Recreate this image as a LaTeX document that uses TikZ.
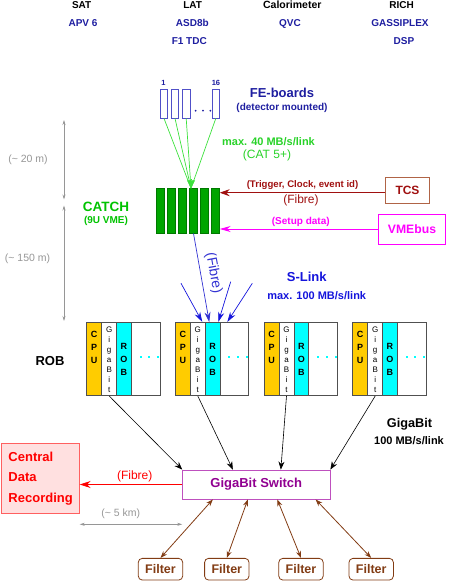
\documentclass[tikz,border=0pt]{standalone}
\usepackage{fontspec}
\setmainfont{Liberation Sans}
\usetikzlibrary{arrows.meta,calc}
\definecolor{navy}{RGB}{30,30,160}
\definecolor{febl}{RGB}{80,80,200}
\definecolor{glight}{RGB}{60,225,60}
\definecolor{gtext}{RGB}{40,210,40}
\definecolor{catchg}{RGB}{0,165,0}
\definecolor{catchd}{RGB}{0,120,0}
\definecolor{catcht}{RGB}{0,195,0}
\definecolor{tcsred}{RGB}{160,16,16}
\definecolor{tcsbox}{RGB}{176,100,70}
\definecolor{magen}{RGB}{255,0,255}
\definecolor{sblue}{RGB}{20,20,220}
\definecolor{fblue}{RGB}{50,50,210}
\definecolor{cpuy}{RGB}{255,204,0}
\definecolor{cyn}{RGB}{0,255,255}
\definecolor{dgray}{RGB}{150,150,150}
\definecolor{modgray}{RGB}{80,80,80}
\definecolor{swline}{RGB}{190,80,190}
\definecolor{swtext}{RGB}{145,0,145}
\definecolor{rred}{RGB}{255,0,0}
\definecolor{rfill}{RGB}{255,224,224}
\definecolor{rline}{RGB}{255,96,96}
\definecolor{brn}{RGB}{130,60,20}
\newcommand\fsz[1]{\fontsize{#1}{#1}\selectfont}
\begin{document}
\begin{tikzpicture}[x=1pt,y=-1pt,
  txt/.style={inner sep=0pt, outer sep=0pt},
  feb/.style={draw=febl, line width=0.8pt, fill=white, minimum width=7.4pt, minimum height=29pt, inner sep=0pt},
  bar/.style={draw=catchd, line width=0.4pt, fill=catchg, minimum width=8pt, minimum height=45pt, inner sep=0pt},
  gline/.style={glight, line width=0.7pt},
  modbox/.style={draw=modgray, line width=0.6pt, fill=white, minimum width=73.3pt, minimum height=73.4pt, inner sep=0pt},
  strip/.style={draw=modgray, line width=0.6pt, minimum width=#1, minimum height=73.4pt, inner sep=0pt},
  stk/.style={txt, align=center},
  dim/.style={dgray, line width=0.6pt, {Stealth[length=5pt,width=3pt]}-{Stealth[length=5pt,width=3pt]}},
  karr/.style={black, line width=0.6pt, -{Stealth[length=8pt,width=6pt]}},
  barr/.style={sblue, line width=0.7pt, -{Stealth[length=10pt,width=6pt]}},
  brarr/.style={brn, line width=0.8pt, {Stealth[length=7pt,width=5pt]}-{Stealth[length=7pt,width=5pt]}},
  filt/.style={draw=brn, line width=0.8pt, rounded corners=4pt, fill=white, minimum width=44.4pt, minimum height=21.7pt, inner sep=0pt, text=brn, font=\fsz{12.5}\bfseries},
]
\useasboundingbox (0,0) rectangle (450,582);

% top row
\node[txt, anchor=base, font=\fsz{10}\bfseries] (sat) at (81.7,8.3) {SAT};
\node[txt, anchor=base, font=\fsz{10}\bfseries] (lat) at (192.7,8.3) {LAT};
\node[txt, anchor=base, font=\fsz{10.5}\bfseries] (cal) at (292.3,8.3) {Calorimeter};
\node[txt, anchor=base, font=\fsz{10}\bfseries] (rich) at (401.7,8.3) {RICH};
\node[txt, anchor=base, font=\fsz{10}\bfseries, text=navy] (apv) at (83,26.7) {APV 6};
\node[txt, anchor=base, font=\fsz{10}\bfseries, text=navy] (asd) at (192.3,26.7) {ASD8b};
\node[txt, anchor=base, font=\fsz{10}\bfseries, text=navy] (qvc) at (290,26.7) {QVC};
\node[txt, anchor=base, font=\fsz{10}\bfseries, text=navy] (gas) at (400,26.7) {GASSIPLEX};
\node[txt, anchor=base, font=\fsz{10}\bfseries, text=navy] (f1tdc) at (189.3,44.3) {F1 TDC};
\node[txt, anchor=base, font=\fsz{10}\bfseries, text=navy] (dsp) at (404,44.3) {DSP};

% FE boards
\node[feb] (fe1) at (164,103.5) {};
\node[feb] (fe2) at (175,103.5) {};
\node[feb] (fe3) at (186.2,103.5) {};
\node[feb] (fe16) at (215.8,103.5) {};
\node[txt, font=\fsz{7.5}\bfseries, text=navy] (l1) at (163.5,83) {1};
\node[txt, font=\fsz{7.5}\bfseries, text=navy] (l16) at (216,83) {16};
\foreach \d in {195.7,203,210.3} \fill[navy] (\d,110.7) circle (1pt);
\node[txt, font=\fsz{13}\bfseries, text=navy] (feb) at (282,92.7) {FE-boards};
\node[txt, font=\fsz{10}\bfseries, text=navy] (fedet) at (282,107.7) {(detector mounted)};

% CATCH
\foreach \i/\x in {1/160,2/171.1,3/182.2,4/193.5,5/204.5,6/215.5}
  \node[bar] (bar\i) at (\x,210.8) {};
\coordinate (fetip) at (191,188.3);
\coordinate (feconv) at (191,179);
\foreach \f in {fe1,fe2,fe3,fe16} \draw[gline] (\f.south) -- (fetip);
\draw[gline, -{Triangle[length=8pt,width=8pt]}] (feconv) -- (fetip);
\node[txt, font=\fsz{11}\bfseries, text=gtext] (max40) at (268.5,141.7) {max. 40 MB/s/link};
\node[txt, font=\fsz{12}, text=gtext] (cat5) at (267,155) {(CAT 5+)};
\node[txt, font=\fsz{13.5}\bfseries, text=catcht] (catch) at (106,206.7) {CATCH};
\node[txt, font=\fsz{10}\bfseries, text=catcht] (vme9u) at (106,221) {(9U VME)};

% TCS / VMEbus
\node[draw=tcsbox, line width=0.8pt, fill=white, minimum width=43.6pt, minimum height=26pt, inner sep=0pt, text=tcsred, font=\fsz{12}\bfseries] (tcs) at (407.5,190.3) {TCS};
\coordinate (tcsw) at ([yshift=-2.4pt]tcs.west);
\draw[tcsred, line width=0.8pt, -{Stealth[length=10pt,width=7pt]}] (tcsw) -- (tcsw -| bar6.east);
\node[txt, font=\fsz{9.6}\bfseries, text=tcsred] (trig) at (302.5,185) {(Trigger, Clock, event id)};
\node[txt, font=\fsz{12}, text=tcsred] (tfib) at (301,200) {(Fibre)};
\node[draw=magen, line width=0.8pt, fill=white, minimum width=67.4pt, minimum height=30pt, inner sep=0pt, text=magen, font=\fsz{12.2}\bfseries] (vme) at (412,229) {VMEbus};
\draw[magen, line width=0.8pt, -{Stealth[length=11pt,width=6pt]}] (vme.west) -- (vme.west -| bar6.east);
\node[txt, font=\fsz{10}\bfseries, text=magen] (setup) at (300.8,222.3) {(Setup data)};

% ROB modules
\foreach \i/\x in {1/86.7,2/175.3,3/264,4/352.7}{
  \node[modbox] (mod\i) at (\x+36.65,359) {};
  \node[strip=15pt, fill=cpuy] (cpu\i) at (\x+7.5,359) {};
  \node[strip=15pt, fill=white] (gig\i) at (\x+22.5,359) {};
  \node[strip=14.5pt, fill=cyn] (rob\i) at (\x+37.25,359) {};
  \node[stk, font=\fontsize{9}{13}\selectfont\bfseries] (cput\i) at (\x+7.5,347.3) {C\\P\\U};
  \node[stk, font=\fontsize{8}{10}\selectfont] (gigt\i) at (\x+22.5,359.5) {G\\i\\g\\a\\B\\i\\t};
  \node[stk, font=\fontsize{9}{13}\selectfont\bfseries] (robt\i) at (\x+37.25,359.5) {R\\O\\B};
  \foreach \d in {54,62.6,71.6} \fill[cyn] (\x+\d-1,356.3) rectangle ++(2,2);
}
\node[txt, font=\fsz{13}\bfseries] (roblab) at (50,361) {ROB};

% S-Link
\coordinate (fibtip) at ([xshift=-3.3pt]rob2.north);
\draw[fblue, line width=0.7pt, -{Stealth[length=10pt,width=6pt]}] (bar4.south) -- (fibtip);
\node[txt, font=\fsz{14}, text=fblue, rotate=-79.5] (sfib) at (213.5,273.3) {(Fibre)};
\coordinate (s1) at (181,283.3);
\coordinate (s3) at (230.7,281.7);
\coordinate (s4) at (252.3,283.3);
\draw[barr] (s1) -- ([xshift=-10.25pt]rob2.north);
\draw[barr] (s3) -- ([xshift=5.75pt]rob2.north);
\draw[barr] (s4) -- ([xshift=14.75pt]rob2.north);
\node[txt, font=\fsz{13}\bfseries, text=sblue] (slink) at (306.7,276.7) {S-Link};
\node[txt, font=\fsz{11}\bfseries, text=sblue] (max100) at (316.7,296) {max. 100 MB/s/link};

% left dimensions
\coordinate (d1) at (64,120);
\coordinate (d2) at (64,199.5);
\coordinate (d3) at (64,205.5);
\coordinate (d4) at (64,321);
\draw[dim] (d1) -- (d2);
\draw[dim] (d3) -- (d4);
\node[txt, font=\fsz{10.5}, text=dgray] (d20) at (28,160) {(\textasciitilde{} 20 m)};
\node[txt, font=\fsz{10.5}, text=dgray] (d150) at (27.5,259) {(\textasciitilde{} 150 m)};

% GigaBit switch
\node[draw=swline, line width=0.8pt, fill=white, minimum width=147.3pt, minimum height=29pt, inner sep=0pt, text=swtext, font=\fsz{13}\bfseries] (sw) at (256.3,484.5) {GigaBit Switch};
\draw[karr] (gig1.south) -- (sw.north west);
\draw[karr] (gig2.south) -- ([xshift=50.6pt]sw.north west);
\draw[karr] (gig3.south) -- ([xshift=98.6pt]sw.north west);
\draw[karr] (gig4.south) -- (sw.north east);
\node[txt, font=\fsz{12.7}\bfseries] (gblab) at (409.5,424) {GigaBit};
\node[txt, font=\fsz{11}\bfseries] (gb100) at (409,441) {100 MB/s/link};

% Central Data Recording
\node[draw=rline, line width=0.8pt, fill=rfill, minimum width=77.6pt, minimum height=70pt, inner sep=0pt, text width=64pt, align=left, text=rred, font=\fontsize{13}{20.5}\selectfont\bfseries] (cdr) at (40.5,478.3) {Central\\Data\\Recording};
\draw[rred, line width=0.8pt, -{Stealth[length=11pt,width=7pt]}] (sw.west) -- (sw.west -| cdr.east);
\node[txt, font=\fsz{12}, text=rred] (rfib) at (134.7,476.7) {(Fibre)};
\coordinate (dimy) at (0,524.3);
\draw[dim] (cdr.east |- dimy) -- (sw.west |- dimy);
\node[txt, font=\fsz{10.5}, text=dgray] (d5) at (120.8,514) {(\textasciitilde{} 5 km)};

% Filters
\node[filt] (f1) at (160.5,569.2) {Filter};
\node[filt] (f2) at (226.8,569.2) {Filter};
\node[filt] (f3) at (301,569.2) {Filter};
\node[filt] (f4) at (371.2,569.2) {Filter};
\draw[brarr] ([xshift=30.6pt]sw.south west) -- (f1.north);
\draw[brarr] ([xshift=65.6pt]sw.south west) -- (f2.north);
\draw[brarr] ([xshift=95pt]sw.south west) -- (f3.north);
\draw[brarr] ([xshift=133.3pt]sw.south west) -- (f4.north);
\end{tikzpicture}
\end{document}
